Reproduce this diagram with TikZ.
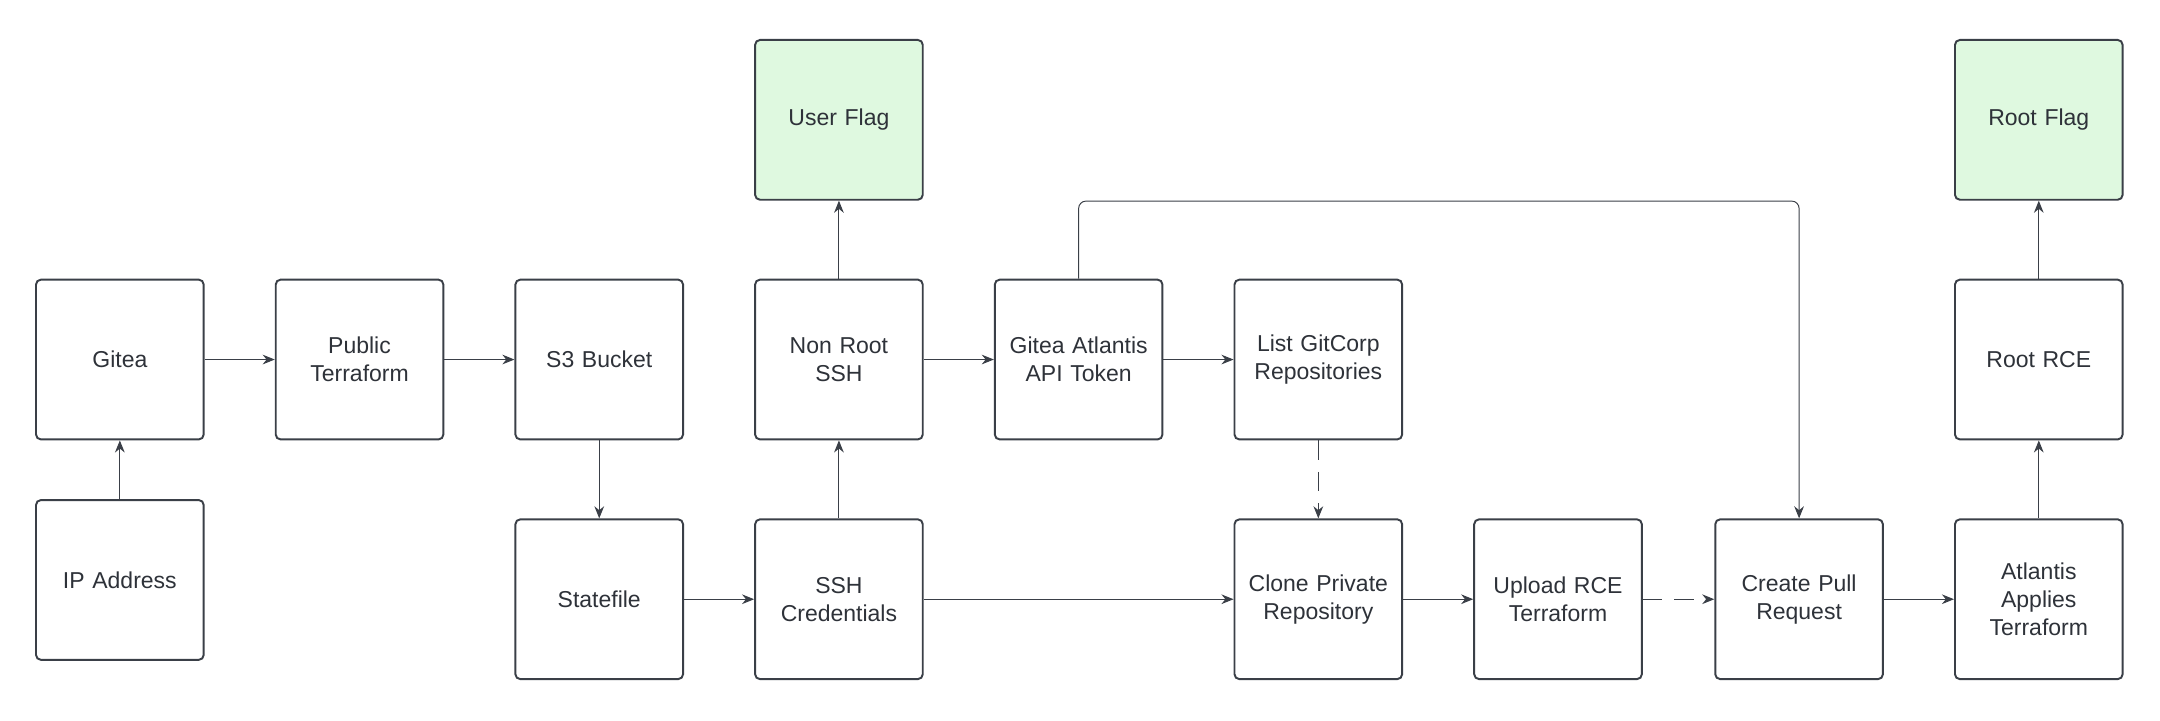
\documentclass[tikz,border=0pt]{standalone}
\usepackage{fontspec}
\setmainfont{Liberation Sans}
\usetikzlibrary{arrows.meta}
\definecolor{edgecolor}{RGB}{58,63,71}
\definecolor{flagcolor}{RGB}{223,249,224}
\tikzset{
  stage/.style={draw=edgecolor,thick,rounded corners=2pt,fill=white,minimum width=2.32cm,minimum height=2.32cm,align=center,text width=2.2cm,font=\fontsize{9.5}{11.5}\selectfont,text=edgecolor!80!black},
  flag/.style={stage,fill=flagcolor},
  link/.style={draw=edgecolor,-{Stealth[length=5pt,width=4pt]}},
}
\begin{document}
\begin{tikzpicture}[x=0.02cm,y=-0.02cm]
        \useasboundingbox (0,0) rectangle (1568,523);
        % first row
        \node[flag] (userflag) at (609,87) {User Flag};
        \node[flag] (rootflag) at (1480,87) {Root Flag};
        % second row
        \node[stage] (gitea) at (87,261) {Gitea};
        \node[stage] (terraform) at (261,261) {Public\\Terraform};
        \node[stage] (bucket) at (435,261) {S3 Bucket};
        \node[stage] (nonroot) at (609,261) {Non Root SSH};
        \node[stage] (token) at (783,261) {Gitea Atlantis\\API Token};
        \node[stage] (listrepos) at (957,261) {List GitCorp\\Repositories};
        \node[stage] (rootrce) at (1480,261) {Root RCE};
        % third row
        \node[stage] (ip) at (87,421) {IP Address};
        \node[stage] (statefile) at (435,435) {Statefile};
        \node[stage] (sshcreds) at (609,435) {SSH\\Credentials};
        \node[stage] (clone) at (957,435) {Clone Private\\Repository};
        \node[stage] (upload) at (1131,435) {Upload RCE\\Terraform};
        \node[stage] (pullreq) at (1306,435) {Create Pull\\Request};
        \node[stage] (applies) at (1480,435) {Atlantis\\Applies\\Terraform};
        % connectors
        \draw[link] (ip) -- (gitea);
        \draw[link] (gitea) -- (terraform);
        \draw[link] (terraform) -- (bucket);
        \draw[link] (bucket) -- (statefile);
        \draw[link] (statefile) -- (sshcreds);
        \draw[link] (sshcreds) -- (nonroot);
        \draw[link] (nonroot) -- (userflag);
        \draw[link] (nonroot) -- (token);
        \draw[link] (token) -- (listrepos);
        \draw[link,dash pattern=on 8pt off 5pt] (listrepos) -- (clone);
        \draw[link] (sshcreds) -- (clone);
        \draw[link] (clone) -- (upload);
        \draw[link,dash pattern=on 8pt off 5pt] (upload) -- (pullreq);
        \draw[link,rounded corners=3pt] (token.north) |- (1306,146) -- (pullreq.north);
        \draw[link] (pullreq) -- (applies);
        \draw[link] (applies) -- (rootrce);
        \draw[link] (rootrce) -- (rootflag);
\end{tikzpicture}
\end{document}
